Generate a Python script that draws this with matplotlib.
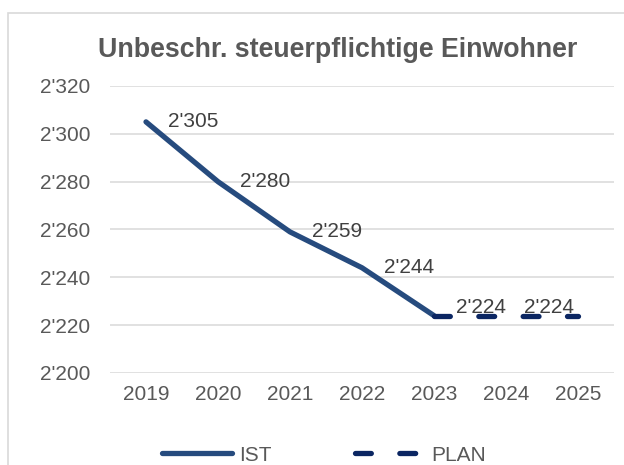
import matplotlib
matplotlib.use("Agg")
import matplotlib.pyplot as plt
from matplotlib.patches import Rectangle

years = ["2019", "2020", "2021", "2022", "2023", "2024", "2025"]
ist_years = ["2019", "2020", "2021", "2022", "2023"]
ist_values = [2305, 2280, 2259, 2244, 2224]
plan_years = ["2023", "2024", "2025"]
plan_values = [2224, 2224, 2224]
y_ticks = [2200, 2220, 2240, 2260, 2280, 2300, 2320]

plt.rcParams["font.family"] = ["Liberation Sans", "DejaVu Sans"]
TXT = "#595959"
GRID = "#D9D9D9"

def fmt(v):
    s = f"{v:,}"
    return s.replace(",", "'")

fig = plt.figure(figsize=(6.24, 4.65), dpi=100)
ax = fig.add_axes([110 / 624, 1 - 373 / 465, (614 - 110) / 624, (373 - 86) / 465])

# chart frame (cut off on the right and bottom like the original)
fig.patches.append(Rectangle((8 / 624, -0.2), 1.2, 1.2 - 13 / 465 + 0.0,
                             transform=fig.transFigure, fill=False,
                             edgecolor=GRID, linewidth=1.2))

xi = {y: i for i, y in enumerate(years)}
ist_x = [xi[y] for y in ist_years]
plan_x = [xi[y] for y in plan_years]

ax.plot(ist_x, ist_values, color="#264B7E", linewidth=3.8,
        solid_capstyle="round", label="IST", zorder=3)
ax.plot(plan_x, plan_values, color="#0B2662", linewidth=3.8,
        dashes=(3, 5.4), dash_capstyle="round", label="PLAN", zorder=3)

# data labels
for x, v in zip(ist_x, ist_values):
    dy = 6 if v == 2224 else 0
    ax.annotate(fmt(v), (x, v), xytext=(16, dy), textcoords="offset points",
                ha="left", va="center", fontsize=15, color="#404040")
ax.annotate(fmt(plan_values[1]), (plan_x[1], plan_values[1]), xytext=(13, 6),
            textcoords="offset points", ha="left", va="center",
            fontsize=15, color="#404040")

ax.set_xlim(-0.5, len(years) - 0.5)
ax.set_ylim(2200, 2320)
ax.set_xticks(range(len(years)))
ax.set_xticklabels(years)
ax.set_yticks(y_ticks)
ax.set_yticklabels([fmt(v) for v in y_ticks])
ax.tick_params(axis="both", length=0, labelsize=15, labelcolor=TXT)
ax.tick_params(axis="x", pad=9)
ax.tick_params(axis="y", pad=14)
ax.grid(axis="y", color=GRID, linewidth=1.1)
ax.set_axisbelow(True)
for s in ax.spines.values():
    s.set_visible(False)

fig.text(338 / 624, 1 - 50 / 465, "Unbeschr. steuerpflichtige Einwohner",
         ha="center", va="center", fontsize=19.3, fontweight="bold", color=TXT)

leg = ax.legend(loc="center", bbox_to_anchor=(324 / 624, 1 - 455 / 465),
                bbox_transform=fig.transFigure, ncol=2, frameon=False,
                fontsize=15, handlelength=3.4, handletextpad=0.3,
                columnspacing=4.0, labelcolor=TXT)

fig.savefig("out.png", dpi=100)
